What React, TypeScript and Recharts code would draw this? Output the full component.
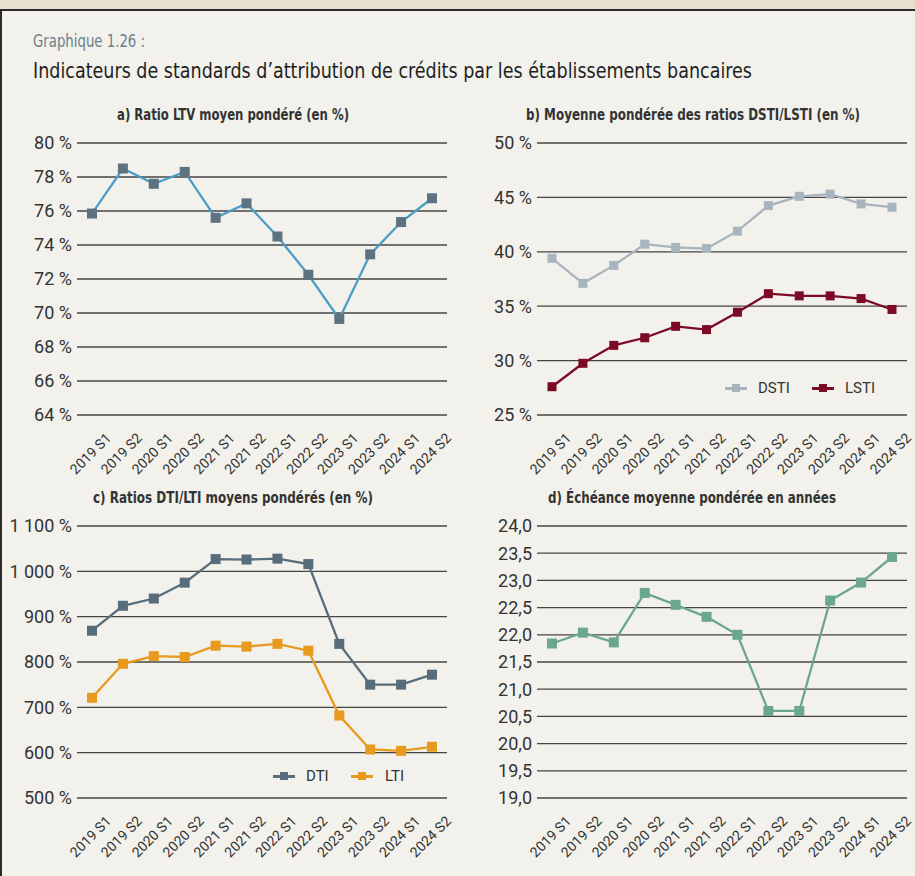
import React from 'react';
import { LineChart, Line, XAxis, YAxis, CartesianGrid } from 'recharts';

const categories = ['2019 S1', '2019 S2', '2020 S1', '2020 S2', '2021 S1', '2021 S2', '2022 S1', '2022 S2', '2023 S1', '2023 S2', '2024 S1', '2024 S2'];

const ltvValues = [75.85, 78.5, 77.6, 78.3, 75.6, 76.45, 74.5, 72.25, 69.65, 73.45, 75.35, 76.75];
const dstiValues = [39.4, 37.1, 38.75, 40.7, 40.4, 40.3, 41.9, 44.25, 45.1, 45.3, 44.4, 44.1];
const lstiValues = [27.6, 29.75, 31.4, 32.1, 33.15, 32.85, 34.45, 36.15, 35.95, 35.95, 35.7, 34.7];
const dtiValues = [869, 924, 940, 975, 1027, 1026, 1028, 1016, 840, 750, 750, 772];
const ltiValues = [721, 796, 813, 811, 836, 834, 840, 825, 682, 607, 604, 613];
const maturityValues = [21.84, 22.04, 21.86, 22.77, 22.55, 22.33, 22.0, 20.6, 20.6, 22.63, 22.96, 23.43];

const ltvTicks = [64, 66, 68, 70, 72, 74, 76, 78, 80];
const stiTicks = [25, 30, 35, 40, 45, 50];
const tiTicks = [500, 600, 700, 800, 900, 1000, 1100];
const maturityTicks = [19, 19.5, 20, 20.5, 21, 21.5, 22, 22.5, 23, 23.5, 24];

const dataA = categories.map((c, i) => ({ cat: c, ltv: ltvValues[i] }));
const dataB = categories.map((c, i) => ({ cat: c, dsti: dstiValues[i], lsti: lstiValues[i] }));
const dataC = categories.map((c, i) => ({ cat: c, dti: dtiValues[i], lti: ltiValues[i] }));
const dataD = categories.map((c, i) => ({ cat: c, mat: maturityValues[i] }));

const NARROW = "'DejaVu Sans Condensed', 'DejaVu Sans', sans-serif";
const TICKFONT = "Roboto, 'Liberation Sans', sans-serif";
const GRID = '#454545';

const squareDot = (color: string, size: number) => (props: any) => {
  const { cx, cy, index } = props;
  if (cx == null || cy == null) return <g key={index} />;
  return <rect key={index} x={cx - size / 2} y={cy - size / 2} width={size} height={size} fill={color} />;
};

const XTick = (props: any) => {
  const { x, y, payload } = props;
  const ax = x + 20;
  const ay = y + 24;
  return (
    <text x={ax} y={ay} textAnchor="end" transform={`rotate(-45 ${ax} ${ay})`} fontSize={14} fill="#333" fontFamily={TICKFONT}>
      {payload.value}
    </text>
  );
};

const pct = (v: number) => `${v}\u00a0%`;
const pctThousands = (v: number) => (v >= 1000 ? `${Math.floor(v / 1000)}\u00a0${String(v % 1000).padStart(3, '0')}\u00a0%` : `${v}\u00a0%`);
const decimal = (v: number) => v.toFixed(1).replace('.', ',');

const yTickStyle = { fontSize: 18, fill: '#333', fontFamily: TICKFONT };

const LegendItem = ({ x, y, color, label, textX }: { x: number; y: number; color: string; label: string; textX: number }) => (
  <>
    <div style={{ position: 'absolute', left: x, top: y - 1.5, width: 22, height: 3, background: color }} />
    <div style={{ position: 'absolute', left: x + 7, top: y - 4, width: 8, height: 8, background: color }} />
    <div style={{ position: 'absolute', left: textX, top: y - 10, height: 20, lineHeight: '20px', fontFamily: TICKFONT, fontSize: 15, color: '#333' }}>{label}</div>
  </>
);

const Title = ({ x, y, w, children }: { x: number; y: number; w: number; children: React.ReactNode }) => (
  <text x={x} y={y} textLength={w} lengthAdjust="spacingAndGlyphs" fontFamily={NARROW} fontWeight={700} fontSize={15} fill="#333">
    {children}
  </text>
);

export default function App() {
  return (
    <div style={{ position: 'absolute', left: 0, top: 0, width: 915, height: 876, background: '#e6e0cf', overflow: 'hidden' }}>
      <style>{`.recharts-surface { overflow: visible; } .recharts-wrapper { overflow: visible; }`}</style>
      <div style={{ position: 'absolute', left: 0, top: 9, width: 915, height: 867, background: '#f2f1eb', borderTop: '2.5px solid #2b2a28', borderLeft: '2.5px solid #2b2a28', boxSizing: 'border-box' }} />
      <svg width={915} height={876} style={{ position: 'absolute', left: 0, top: 0 }}>
        <text x={33} y={47} textLength={112} lengthAdjust="spacingAndGlyphs" fontFamily={NARROW} fontSize={17} fill="#6c7f8d">Graphique 1.26&#160;:</text>
        <text x={33} y={78} textLength={719} lengthAdjust="spacingAndGlyphs" fontFamily={NARROW} fontSize={21} fill="#1f1f1f">Indicateurs de standards d’attribution de crédits par les établissements bancaires</text>
        <Title x={117} y={120} w={232}>a) Ratio LTV moyen pondéré (en&#160;%)</Title>
        <Title x={526} y={120} w={334}>b) Moyenne pondérée des ratios DSTI/LSTI (en&#160;%)</Title>
        <Title x={93} y={503} w={280}>c) Ratios DTI/LTI moyens pondérés (en&#160;%)</Title>
        <Title x={548} y={503} w={288}>d) Échéance moyenne pondérée en années</Title>
      </svg>

      <div style={{ position: 'absolute', left: 0, top: 100 }}>
        <LineChart width={460} height={370} data={dataA} margin={{ top: 43, right: 13, left: 0, bottom: 0 }}>
          <CartesianGrid vertical={false} stroke={GRID} strokeWidth={1.3} />
          <XAxis dataKey="cat" interval={0} padding={{ left: 15, right: 15 }} axisLine={false} tickLine={false} tickSize={0} tickMargin={0} height={55} tick={<XTick />} />
          <YAxis domain={[64, 80]} ticks={ltvTicks} width={77} axisLine={false} tickLine={false} tickSize={0} tickMargin={5} tickFormatter={pct} tick={yTickStyle} />
          <Line type="linear" dataKey="ltv" stroke="#4b9dc6" strokeWidth={2.3} dot={squareDot('#5e7382', 10)} activeDot={false} isAnimationActive={false} />
        </LineChart>
      </div>

      <div style={{ position: 'absolute', left: 455, top: 100 }}>
        <LineChart width={460} height={370} data={dataB} margin={{ top: 43, right: 8, left: 0, bottom: 0 }}>
          <CartesianGrid vertical={false} stroke={GRID} strokeWidth={1.3} />
          <XAxis dataKey="cat" interval={0} padding={{ left: 15, right: 15 }} axisLine={false} tickLine={false} tickSize={0} tickMargin={0} height={55} tick={<XTick />} />
          <YAxis domain={[25, 50]} ticks={stiTicks} width={82} axisLine={false} tickLine={false} tickSize={0} tickMargin={5} tickFormatter={pct} tick={yTickStyle} />
          <Line type="linear" dataKey="dsti" name="DSTI" stroke="#a8b5bf" strokeWidth={2.3} dot={squareDot('#a8b5bf', 9)} activeDot={false} isAnimationActive={false} />
          <Line type="linear" dataKey="lsti" name="LSTI" stroke="#7c0a27" strokeWidth={2.3} dot={squareDot('#7c0a27', 9)} activeDot={false} isAnimationActive={false} />
        </LineChart>
      </div>
      <LegendItem x={725} y={388} color="#a8b5bf" label="DSTI" textX={758} />
      <LegendItem x={812} y={388} color="#7c0a27" label="LSTI" textX={845} />

      <div style={{ position: 'absolute', left: 0, top: 470 }}>
        <LineChart width={460} height={406} data={dataC} margin={{ top: 56, right: 13, left: 0, bottom: 0 }}>
          <CartesianGrid vertical={false} stroke={GRID} strokeWidth={1.3} />
          <XAxis dataKey="cat" interval={0} padding={{ left: 15, right: 15 }} axisLine={false} tickLine={false} tickSize={0} tickMargin={0} height={78} tick={<XTick />} />
          <YAxis domain={[500, 1100]} ticks={tiTicks} width={77} axisLine={false} tickLine={false} tickSize={0} tickMargin={5} tickFormatter={pctThousands} tick={yTickStyle} />
          <Line type="linear" dataKey="dti" name="DTI" stroke="#586d7b" strokeWidth={2.3} dot={squareDot('#586d7b', 10)} activeDot={false} isAnimationActive={false} />
          <Line type="linear" dataKey="lti" name="LTI" stroke="#e89a1f" strokeWidth={2.3} dot={squareDot('#e89a1f', 10)} activeDot={false} isAnimationActive={false} />
        </LineChart>
      </div>
      <LegendItem x={273} y={776} color="#586d7b" label="DTI" textX={306} />
      <LegendItem x={351} y={776} color="#e89a1f" label="LTI" textX={385} />

      <div style={{ position: 'absolute', left: 455, top: 470 }}>
        <LineChart width={460} height={406} data={dataD} margin={{ top: 56, right: 8, left: 0, bottom: 0 }}>
          <CartesianGrid vertical={false} stroke={GRID} strokeWidth={1.3} />
          <XAxis dataKey="cat" interval={0} padding={{ left: 15, right: 15 }} axisLine={false} tickLine={false} tickSize={0} tickMargin={0} height={78} tick={<XTick />} />
          <YAxis domain={[19, 24]} ticks={maturityTicks} width={82} axisLine={false} tickLine={false} tickSize={0} tickMargin={5} tickFormatter={decimal} tick={yTickStyle} />
          <Line type="linear" dataKey="mat" stroke="#6ba691" strokeWidth={2.3} dot={squareDot('#6ba691', 10)} activeDot={false} isAnimationActive={false} />
        </LineChart>
      </div>
    </div>
  );
}
